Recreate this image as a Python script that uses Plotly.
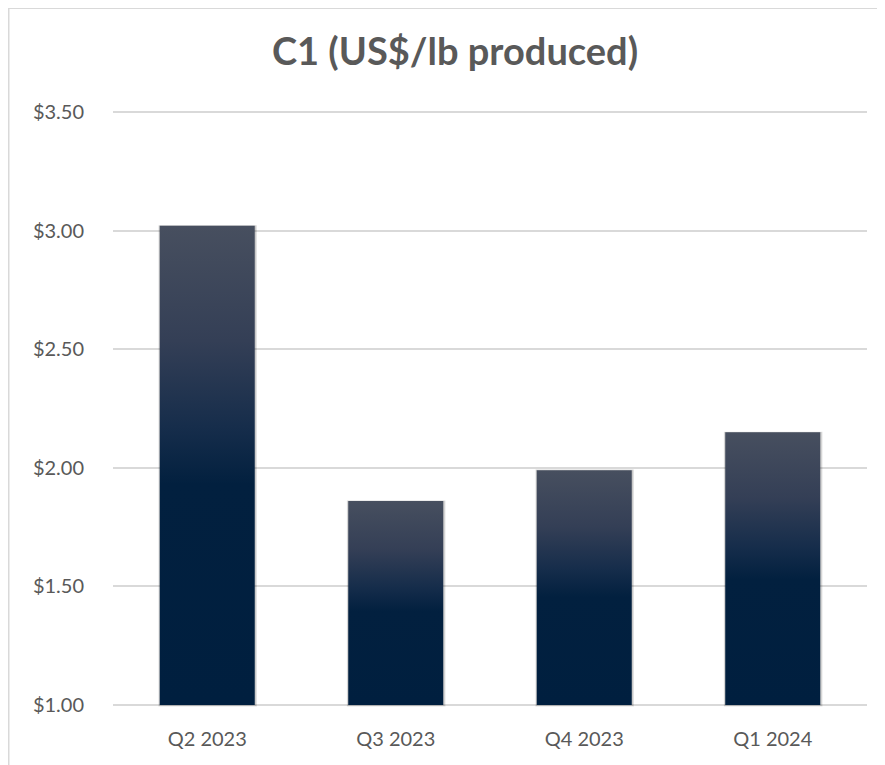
import plotly.graph_objects as go

categories = ["Q2 2023", "Q3 2023", "Q4 2023", "Q1 2024"]
values = [3.02, 1.86, 1.99, 2.15]
y_ticks = [1.0, 1.5, 2.0, 2.5, 3.0, 3.5]
y_tick_labels = ["$1.00", "$1.50", "$2.00", "$2.50", "$3.00", "$3.50"]
title_text = "C1 (US$/lb produced)"

base = 1.0
half = 0.252
gradient = [[0.0, "#001f3f"], [0.46, "#02203f"], [0.58, "#162d4b"],
            [0.76, "#343f56"], [1.0, "#474f5f"]]

# page offset of the figure inside the browser (body margin)
OFF = 8
W, H = 885, 765
PADPX = 3
L, R = 113 - OFF, W - 867 + OFF
T, B = 112 - OFF - PADPX, H - 705 + OFF - PADPX
PW, PH = W - L - R, H - T - B
pad = PADPX * 2.5 / 593

fig = go.Figure()

# soft shadows
for i, v in enumerate(values):
    for k, op in [(0.012, 0.10), (0.007, 0.12)]:
        fig.add_trace(go.Scatter(
            x=[i - half - k * 0.6, i + half + k, i + half + k, i - half - k * 0.6, i - half - k * 0.6],
            y=[base - k * 0.5, base - k * 0.5, v + k * 0.2, v + k * 0.2, base - k * 0.5],
            mode="lines", line=dict(width=0), fill="toself",
            fillcolor=f"rgba(0,0,0,{op})", hoverinfo="skip", showlegend=False))

for i, (c, v) in enumerate(zip(categories, values)):
    fig.add_trace(go.Scatter(
        x=[i - half, i + half, i + half, i - half, i - half],
        y=[base, base, v, v, base],
        mode="lines", line=dict(width=0), fill="toself",
        fillgradient=dict(type="vertical", colorscale=gradient),
        name=c, hovertemplate=f"{c}: ${v:.2f}<extra></extra>", showlegend=False))

fig.update_layout(
    width=W, height=H,
    margin=dict(l=L, r=R, t=T, b=B),
    paper_bgcolor="white", plot_bgcolor="white",
    font=dict(family="Lato, Open Sans, sans-serif", color="#595959"),
    title=dict(text=f"<b>{title_text}</b>", x=(455 - OFF - L) / PW, xanchor="center", xref="paper",
               y=1 - (52 - OFF) / H, yanchor="middle",
               font=dict(size=38, color="#595959", family="Lato, Open Sans, sans-serif")),
    xaxis=dict(range=[-0.5, 3.5], tickvals=list(range(len(categories))),
               ticktext=categories, showgrid=False, zeroline=False, showline=False,
               ticks="", tickfont=dict(size=20, color="#595959"), ticklabelstandoff=14 + PADPX,
               fixedrange=True),
    yaxis=dict(range=[1.0 - pad, 3.5 + pad], tickvals=y_ticks, ticktext=y_tick_labels,
               showgrid=True, gridcolor="#d9d9d9", gridwidth=1.5, zeroline=False,
               showline=False, ticks="", tickfont=dict(size=20, color="#595959"),
               ticklabelstandoff=28, fixedrange=True),
    shapes=[
        dict(type="line", xref="paper", yref="paper", x0=(0 - L) / PW, x1=(W - L) / PW,
             y0=1 + (T - 0) / PH, y1=1 + (T - 0) / PH, line=dict(color="#d9d9d9", width=2)),
        dict(type="line", xref="paper", yref="paper", x0=(0.5 - L) / PW, x1=(0.5 - L) / PW,
             y0=1 + T / PH, y1=-(B + 5) / PH, line=dict(color="#d9d9d9", width=2)),
    ],
)

fig.write_html("out.html")
